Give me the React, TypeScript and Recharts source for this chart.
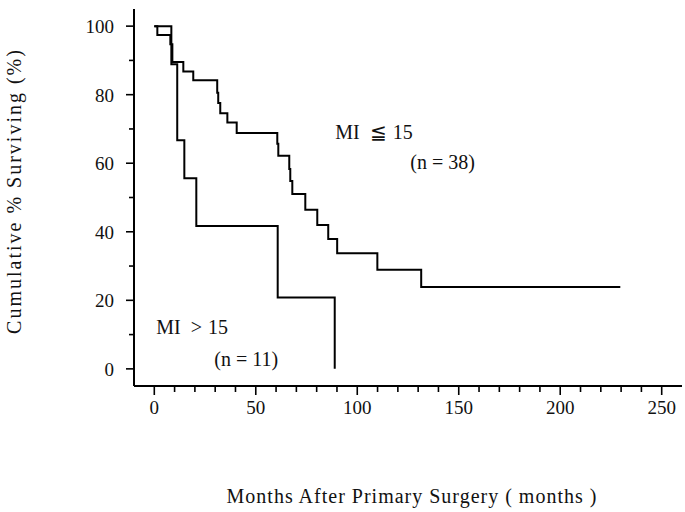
import React from 'react';
import { LineChart, Line, XAxis, YAxis, ReferenceDot, Label } from 'recharts';

// MI <= 15 group (n = 38)
const monthsLow = [0, 1.5, 7.9, 8.9, 14.3, 19.2, 31.0, 31.5, 32.5, 36.0, 40.6, 60.6, 61.1, 66.5, 67.0, 68.0, 74.4, 80.3, 85.7, 90.1, 109.9, 131.5, 229.6];
const survivalLow = [100, 97.4, 94.7, 89.5, 86.8, 84.2, 80.6, 77.6, 74.6, 71.9, 68.8, 65.7, 62.2, 58.3, 54.8, 51.0, 46.4, 42.0, 37.9, 33.7, 28.9, 23.9, 23.9];

// MI > 15 group (n = 11)
const monthsHigh = [0, 8.4, 11.3, 14.8, 20.7, 60.8, 88.9];
const survivalHigh = [100, 88.9, 66.7, 55.6, 41.7, 20.8, 0];

const xTicks = [0, 10, 20, 30, 40, 50, 60, 70, 80, 90, 100, 110, 120, 130, 140, 150, 160, 170, 180, 190, 200, 210, 220, 230, 240, 250];
const yTicks = [0, 10, 20, 30, 40, 50, 60, 70, 80, 90, 100];

// annotation words, split so the gaps can be widened like the original
const annoParts = [['MI', '\u2266', '15'], ['(n = 38)'], ['MI', '>', '15'], ['(n = 11)']];
const annoX = [89.2, 126.1, 1.0, 29.6];
const annoY = [67.1, 58.3, 10.2, 0.9];

const lowData = monthsLow.map((m, i) => ({ month: m, pct: survivalLow[i] }));
const highData = monthsHigh.map((m, i) => ({ month: m, pct: survivalHigh[i] }));

const FONT = '"Liberation Serif", "Times New Roman", serif';

const XTick = (props: any) => {
  const { x, y, payload } = props;
  const major = payload.value % 50 === 0;
  return (
    <g>
      <line x1={x} y1={y} x2={x} y2={y + (major ? 9 : 6)} stroke="#000" strokeWidth={1.6} />
      {major && (
        <text x={x} y={y + 28} textAnchor="middle" fontFamily={FONT} fontSize={19} fill="#111">
          {payload.value}
        </text>
      )}
    </g>
  );
};

const YTick = (props: any) => {
  const { x, y, payload } = props;
  const major = payload.value % 20 === 0;
  return (
    <g>
      <line x1={x - (major ? 8 : 5)} y1={y} x2={x} y2={y} stroke="#000" strokeWidth={1.6} />
      {major && (
        <text x={x - 20} y={y + 7} textAnchor="end" fontFamily={FONT} fontSize={19} fill="#111">
          {payload.value}
        </text>
      )}
    </g>
  );
};

export default function App() {
  return (
    <div style={{ position: 'absolute', left: 0, top: 0, width: 685, height: 512, background: '#fff' }}>
      <LineChart width={685} height={512} margin={{ top: 9, right: 3, left: 0, bottom: 0 }}>
        <XAxis
          type="number"
          dataKey="month"
          domain={[-10, 260]}
          ticks={xTicks}
          interval={0}
          allowDataOverflow
          height={126}
          tickSize={0}
          tickMargin={0}
          tickLine={false}
          axisLine={{ stroke: '#000', strokeWidth: 2 }}
          tick={<XTick />}
        >
          <Label
            content={() => (
              <text x={412} y={503} textAnchor="middle" fontFamily={FONT} fontSize={20} fill="#111" letterSpacing={1}>
                Months After Primary Surgery ( months )
              </text>
            )}
          />
        </XAxis>
        <YAxis
          type="number"
          dataKey="pct"
          domain={[-5, 105]}
          ticks={yTicks}
          interval={0}
          allowDataOverflow
          width={134}
          tickSize={0}
          tickMargin={0}
          tickLine={false}
          axisLine={{ stroke: '#000', strokeWidth: 2 }}
          tick={<YTick />}
        >
          <Label
            content={() => (
              <text
                x={14}
                y={191}
                transform="rotate(-90 14 191)"
                textAnchor="middle"
                dominantBaseline="central"
                fontFamily={FONT}
                fontSize={20}
                fill="#111"
                letterSpacing={2}
              >
                Cumulative % Surviving (%)
              </text>
            )}
          />
        </YAxis>
        <Line
          data={lowData}
          dataKey="pct"
          type="stepAfter"
          stroke="#000"
          strokeWidth={2}
          dot={false}
          activeDot={false}
          isAnimationActive={false}
        />
        <Line
          data={highData}
          dataKey="pct"
          type="stepAfter"
          stroke="#000"
          strokeWidth={2}
          dot={false}
          activeDot={false}
          isAnimationActive={false}
        />
        {annoParts.map((parts, i) => (
          <ReferenceDot
            key={i}
            x={annoX[i]}
            y={annoY[i]}
            r={1}
            fill="none"
            stroke="none"
            label={{
              content: (p: any) => (
                <text x={p.viewBox.x + 1} y={p.viewBox.y + 1} fontFamily={FONT} fontSize={20} fill="#111">
                  {parts.map((w, j) => (
                    <tspan key={j} dx={j === 0 ? 0 : j === 1 ? 10 : 6}>
                      {w}
                    </tspan>
                  ))}
                </text>
              ),
            }}
          />
        ))}
      </LineChart>
    </div>
  );
}
